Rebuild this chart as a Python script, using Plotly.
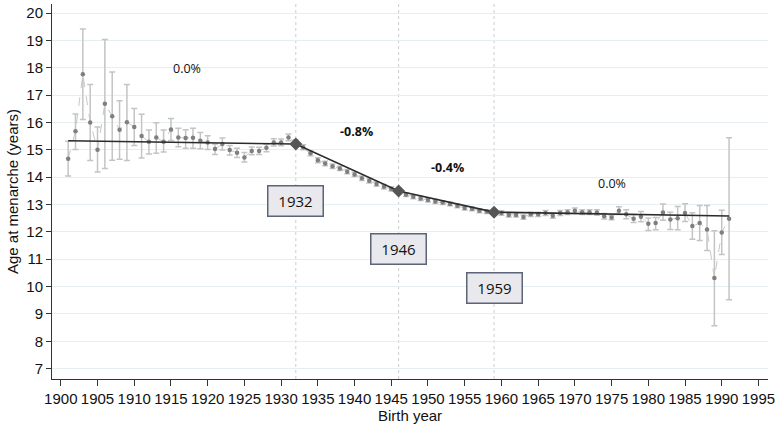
import plotly.graph_objects as go

# ---------------- data ----------------
years = list(range(1901, 1992))
age = [
    14.67, 15.68, 17.76, 16.00, 15.00, 16.68, 16.23, 15.73, 16.01, 15.83,
    15.50, 15.29, 15.45, 15.29, 15.74, 15.45, 15.43, 15.44, 15.33, 15.27,
    15.03, 15.21, 14.99, 14.89, 14.72, 14.96, 14.96, 15.07, 15.27, 15.27,
    15.45, 15.26, 15.09, 14.87, 14.62, 14.50, 14.40, 14.32, 14.20, 14.10,
    13.96, 13.87, 13.75, 13.65, 13.57, 13.49, 13.36, 13.28, 13.22, 13.16,
    13.11, 13.07, 13.02, 12.95, 12.87, 12.84, 12.77, 12.74, 12.72, 12.69,
    12.62, 12.62, 12.54, 12.64, 12.64, 12.69, 12.59, 12.69, 12.72, 12.77,
    12.72, 12.72, 12.71, 12.57, 12.52, 12.77, 12.64, 12.48, 12.55, 12.30,
    12.32, 12.71, 12.45, 12.50, 12.69, 12.21, 12.32, 12.09, 10.31, 11.98,
    12.48,
]
err_plus = [
    0.64, 0.63, 1.66, 1.39, 0.83, 2.35, 1.61, 1.06, 1.38, 0.68,
    0.80, 0.43, 0.54, 0.43, 0.40, 0.34, 0.30, 0.35, 0.30, 0.24,
    0.18, 0.22, 0.17, 0.17, 0.18, 0.14, 0.13, 0.13, 0.13, 0.12,
    0.13, 0.10, 0.09, 0.09, 0.09, 0.08, 0.08, 0.08, 0.08, 0.08,
    0.08, 0.08, 0.08, 0.08, 0.08, 0.07, 0.07, 0.07, 0.07, 0.07,
    0.07, 0.07, 0.07, 0.07, 0.07, 0.07, 0.07, 0.07, 0.07, 0.08,
    0.08, 0.08, 0.08, 0.08, 0.08, 0.09, 0.09, 0.09, 0.09, 0.10,
    0.09, 0.09, 0.10, 0.10, 0.08, 0.15, 0.17, 0.15, 0.19, 0.21,
    0.20, 0.31, 0.27, 0.43, 0.34, 0.49, 0.64, 0.87, 1.73, 0.81,
    2.96,
]
err_minus = [
    0.63, 0.67, 1.65, 1.39, 0.81, 2.36, 1.61, 1.08, 1.40, 0.67,
    0.80, 0.44, 0.58, 0.37, 0.40, 0.34, 0.37, 0.38, 0.29, 0.26,
    0.20, 0.22, 0.18, 0.17, 0.17, 0.14, 0.13, 0.14, 0.13, 0.12,
    0.12, 0.10, 0.09, 0.09, 0.09, 0.08, 0.08, 0.08, 0.08, 0.08,
    0.08, 0.08, 0.08, 0.08, 0.08, 0.07, 0.07, 0.07, 0.07, 0.07,
    0.07, 0.07, 0.07, 0.07, 0.07, 0.07, 0.07, 0.07, 0.07, 0.08,
    0.08, 0.08, 0.08, 0.08, 0.08, 0.09, 0.09, 0.09, 0.09, 0.10,
    0.09, 0.09, 0.10, 0.10, 0.08, 0.14, 0.16, 0.14, 0.18, 0.25,
    0.24, 0.29, 0.36, 0.42, 0.31, 0.48, 0.64, 0.77, 1.74, 0.81,
    2.96,
]

fit_years = [1901, 1932, 1946, 1959, 1991]
fit_age = [15.33, 15.21, 13.49, 12.72, 12.58]

joinpoints = [1932, 1946, 1959]
joinpoint_age = [15.21, 13.49, 12.72]

apc_labels = ["0.0%", "<b>-0.8%</b>", "<b>-0.4%</b>", "0.0%"]
x_ticks = list(range(1900, 1996, 5))
y_ticks = list(range(7, 21))

# ---------------- figure ----------------
fig = go.Figure()

fig.add_trace(go.Scatter(
    x=years, y=age, mode="lines+markers",
    line=dict(color="#c8c8c8", width=1, dash="dash"),
    marker=dict(color="#7f7f7f", size=4.5),
    error_y=dict(type="data", symmetric=False, array=err_plus, arrayminus=err_minus,
                 color="#c4c4c4", thickness=1.5, width=3),
    showlegend=False, hoverinfo="x+y",
))

fig.add_trace(go.Scatter(
    x=fit_years, y=fit_age, mode="lines",
    line=dict(color="#2b2b2b", width=1.6),
    showlegend=False,
))

fig.add_trace(go.Scatter(
    x=joinpoints, y=joinpoint_age, mode="markers",
    marker=dict(symbol="diamond", color="#555555", size=10),
    showlegend=False,
))

for jp in joinpoints:
    fig.add_shape(type="line", x0=jp, x1=jp, xref="x", yref="paper", y0=0, y1=1,
                  line=dict(color="#cdcdcd", width=1, dash="dot"), layer="below")

apc_pos = [(1917.2, 17.98), (1940.3, 15.67), (1952.7, 14.36), (1975.1, 13.77)]
for lab, (ax_, ay_) in zip(apc_labels, apc_pos):
    fig.add_annotation(x=ax_, y=ay_, text=lab, showarrow=False,
                       font=dict(family="Open Sans, sans-serif", size=12.5, color="#111111"))

box_pos = [(1932, 13.11), (1946, 11.36), (1959, 9.93)]
for jp, (bx, by) in zip(joinpoints, box_pos):
    fig.add_annotation(x=bx, y=by, text=str(jp), showarrow=False,
                       width=52, height=27,
                       bgcolor="#e9e8ec", bordercolor="#5b6478", borderwidth=1.5, borderpad=1,
                       font=dict(family="Open Sans, sans-serif", size=15, color="#111111"))

fig.update_layout(
    width=778, height=424,
    margin=dict(l=52, r=10, t=4, b=45),
    paper_bgcolor="white", plot_bgcolor="white",
    font=dict(family="Liberation Sans, Arial, sans-serif", size=15, color="#111111"),
)

fig.update_xaxes(
    range=[1898.8, 1996.3], tickvals=x_ticks, ticktext=[str(t) for t in x_ticks],
    showgrid=False, zeroline=False, showline=True, linecolor="#333333", linewidth=1,
    ticks="outside", ticklen=6, tickcolor="#333333",
    title=dict(text="Birth year", standoff=2, font=dict(size=15)),
    tickfont=dict(size=15),
)
fig.update_yaxes(
    range=[6.62, 20.33], tickvals=y_ticks, ticktext=[str(t) for t in y_ticks],
    showgrid=True, gridcolor="#e6eef2", gridwidth=1, zeroline=False,
    showline=True, linecolor="#333333", linewidth=1,
    ticks="outside", ticklen=5, tickcolor="#333333",
    title=dict(text="Age at menarche (years)", standoff=4, font=dict(size=15)),
    tickfont=dict(size=15),
)

fig.write_html("out.html", config={"displayModeBar": False},
               post_script="document.body.style.margin='0';document.body.style.overflow='hidden';")
